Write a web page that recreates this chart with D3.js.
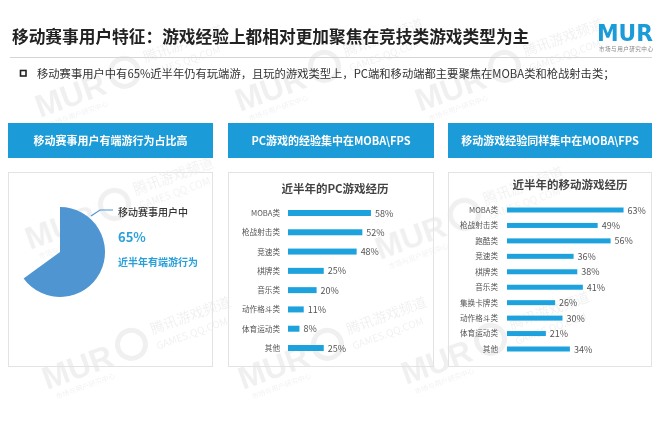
<!DOCTYPE html>
<html><head><meta charset="utf-8">
<script src="https://cdn.jsdelivr.net/npm/d3@7/dist/d3.min.js"></script>
<style>
body{margin:0;background:#fff;}
svg{display:block;font-family:"Noto Sans CJK SC","Noto Sans",sans-serif;}
</style></head>
<body><svg id="c" width="658" height="428"></svg>
<script>
const titleText = "移动赛事用户特征：游戏经验上都相对更加聚焦在竞技类游戏类型为主";
const bulletText = "移动赛事用户中有65%近半年仍有玩端游，且玩的游戏类型上，PC端和移动端都主要聚焦在MOBA类和枪战射击类；";
const headers = ["移动赛事用户有端游行为占比高", "PC游戏的经验集中在MOBA\\FPS", "移动游戏经验同样集中在MOBA\\FPS"];
const pieValues = [65, 35];
const pieLabels = ["移动赛事用户中", "65%", "近半年有端游行为"];
const pcTitle = "近半年的PC游戏经历";
const pcCats = ["MOBA类","枪战射击类","竞速类","棋牌类","音乐类","动作格斗类","体育运动类","其他"];
const pcVals = [58,52,48,25,20,11,8,25];
const mbTitle = "近半年的移动游戏经历";
const mbCats = ["MOBA类","枪战射击类","跑酷类","竞速类","棋牌类","音乐类","集换卡牌类","动作格斗类","体育运动类","其他"];
const mbVals = [63,49,56,36,38,41,26,30,21,34];

const BLUE = "#1b9bd7", BAR = "#1ea2dd", PIE = "#4f95d1";
const svg = d3.select("#c");

// watermarks (faint)
const wm = svg.append("g").attr("opacity", 0.06).attr("fill", "#000");
const wmPos = [[47,390],[243,390],[406,385],[40,118],[240,112],[420,112],[380,260],[30,250]];
wmPos.forEach(([x,y]) => {
  const g = wm.append("g").attr("transform", `translate(${x},${y}) rotate(-20)`);
  g.append("text").attr("font-size", 32).attr("font-weight", 900).attr("font-family","Arial,Liberation Sans,sans-serif").text("MUR");
  g.append("text").attr("x", 6).attr("y", 12).attr("font-size", 7).text("市场与用户研究中心");
  g.append("circle").attr("cx", 95).attr("cy", -14).attr("r", 14).attr("fill","none").attr("stroke","#000").attr("stroke-width",5);
  g.append("text").attr("x", 118).attr("y", -16).attr("font-size", 14).text("腾讯游戏频道");
  g.append("text").attr("x", 118).attr("y", 0).attr("font-size", 10).text("GAMES.QQ.COM");
});

// title
svg.append("text").attr("x", 12).attr("y", 43).attr("font-size", 16.7).attr("font-weight", 700)
  .attr("fill", "#222").text(titleText);
// logo
svg.append("text").attr("x", 597).attr("y", 40.5).attr("font-size", 23).attr("font-weight", 700)
  .attr("font-family","DejaVu Sans,sans-serif").attr("fill", BLUE).attr("textLength", 56).attr("lengthAdjust","spacingAndGlyphs").text("MUR");
svg.append("text").attr("x", 599).attr("y", 50.5).attr("font-size", 5.6).attr("fill", "#888").attr("textLength", 54).text("市场与用户研究中心");
// rule
svg.append("line").attr("x1", 10).attr("x2", 652).attr("y1", 57.5).attr("y2", 57.5).attr("stroke", "#d5d5d5");
// bullet
svg.append("rect").attr("x", 20.5).attr("y", 70.5).attr("width", 5.5).attr("height", 5.5).attr("fill","none").attr("stroke","#222").attr("stroke-width",1.6);
svg.append("text").attr("x", 37).attr("y", 77.5).attr("font-size", 11.3).attr("fill", "#333").text(bulletText);

// panels
const panels = [[8,213],[228,434],[448,652]];
panels.forEach(([x0,x1], i) => {
  svg.append("rect").attr("x", x0).attr("y", 123).attr("width", x1-x0).attr("height", 35).attr("fill", BLUE);
  svg.append("text").attr("x", (x0+x1)/2).attr("y", 144.5).attr("text-anchor","middle")
    .attr("font-size", 11).attr("font-weight", 700).attr("fill", "#fff").text(headers[i]);
  svg.append("rect").attr("x", x0+0.5).attr("y", 172.5).attr("width", x1-x0-1).attr("height", 194)
    .attr("fill", "none").attr("stroke", "#e3e3e3");
});

// pie
const pie = d3.pie().sort(null).startAngle(0)(pieValues);
const arc = d3.arc().innerRadius(0).outerRadius(45);
svg.append("path").attr("transform","translate(60,252)").attr("d", arc(pie[0])).attr("fill", PIE);
svg.append("polyline").attr("points","91,216 100,210 113,210").attr("fill","none").attr("stroke", PIE).attr("stroke-width",1.2);
svg.append("text").attr("x",118).attr("y",216).attr("font-size",10).attr("font-weight",500).attr("fill","#333").text(pieLabels[0]);
svg.append("text").attr("x",118).attr("y",242).attr("font-size",13).attr("font-weight",700).attr("fill","#2aa0da").text(pieLabels[1]);
svg.append("text").attr("x",118).attr("y",266).attr("font-size",10).attr("font-weight",700).attr("fill","#2aa0da").text(pieLabels[2]);

function barChart(title, tx, ty, cats, vals, x0, pxPer, yTop, yBot, bh, labelRight) {
  svg.append("text").attr("x", tx).attr("y", ty).attr("text-anchor","middle").attr("font-size", 11.5)
    .attr("font-weight", 700).attr("fill", "#444").text(title);
  const x = d3.scaleLinear().domain([0,100]).range([x0, x0 + pxPer*100]);
  const y = d3.scalePoint().domain(cats).range([yTop, yBot]);
  const g = svg.append("g");
  g.selectAll("rect").data(cats).join("rect")
    .attr("x", x(0)).attr("y", d => y(d) - bh/2).attr("height", bh)
    .attr("width", (d,i) => x(vals[i]) - x(0)).attr("fill", BAR);
  g.selectAll("text.v").data(cats).join("text").attr("class","v")
    .attr("x", (d,i) => x(vals[i]) + 4).attr("y", d => y(d) + 3.5)
    .attr("font-size", 9).attr("fill", "#555").text((d,i) => vals[i] + "%");
  const ax = d3.axisLeft(y).tickSize(0).tickPadding(0);
  const axg = svg.append("g").attr("transform", `translate(${labelRight},0)`).call(ax);
  axg.select(".domain").remove();
  axg.selectAll("text").attr("font-size", 7.6).attr("fill", "#555").attr("font-family",'"Noto Sans CJK SC",sans-serif');
}
barChart(pcTitle, 335, 193, pcCats, pcVals, 288, 1.43, 213, 348, 6, 280);
barChart(mbTitle, 570, 189, mbCats, mbVals, 507, 1.85, 210, 349, 5, 498);
</script></body></html>
